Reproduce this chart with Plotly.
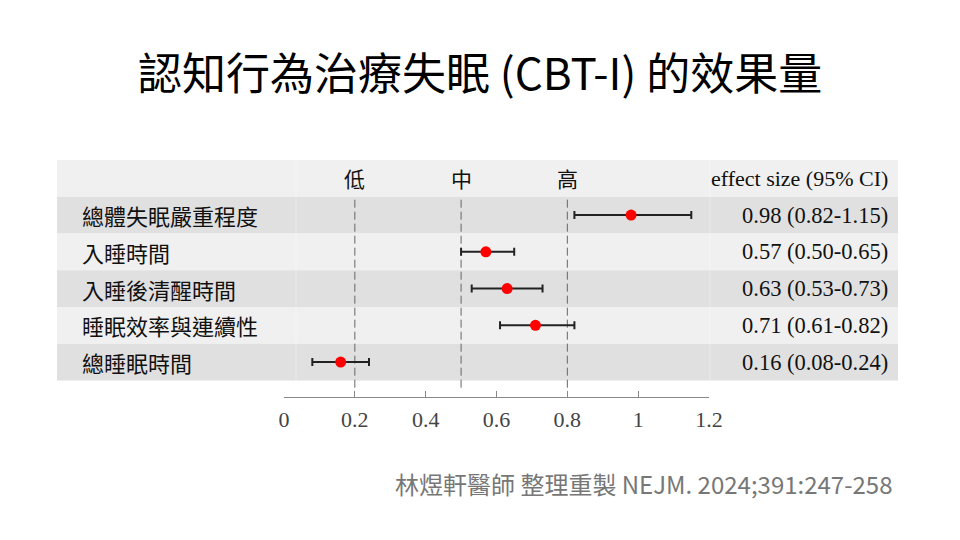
import plotly.graph_objects as go

# data
outcomes = ["總體失眠嚴重程度", "入睡時間", "入睡後清醒時間", "睡眠效率與連續性", "總睡眠時間"]
effect = [0.98, 0.57, 0.63, 0.71, 0.16]
ci_low = [0.82, 0.50, 0.53, 0.61, 0.08]
ci_high = [1.15, 0.65, 0.73, 0.82, 0.24]
ref_levels = [0.2, 0.5, 0.8]
ref_names = ["低", "中", "高"]
x_ticks = [0, 0.2, 0.4, 0.6, 0.8, 1.0, 1.2]
x_ticktext = ["0", "0.2", "0.4", "0.6", "0.8", "1", "1.2"]

W, H = 960, 540
CJK = "Noto Sans CJK TC, Noto Sans CJK SC, sans-serif"
SERIF = "Liberation Serif, Times New Roman, serif"

rows = list(range(1, len(outcomes) + 1))

fig = go.Figure()

fig.add_trace(go.Scatter(
    x=effect, y=rows, mode="markers",
    marker=dict(color="#ff0000", size=11),
    error_x=dict(type="data", symmetric=False,
                 array=[h - e for h, e in zip(ci_high, effect)],
                 arrayminus=[e - l for e, l in zip(effect, ci_low)],
                 color="#222222", thickness=2, width=4),
    showlegend=False, hoverinfo="skip",
))

shapes = []
# row stripes (header row 0 + data rows)
for i in range(len(outcomes) + 1):
    shapes.append(dict(type="rect", xref="paper", yref="y",
                       x0=57 / W, x1=898 / W, y0=i - 0.5, y1=i + 0.5,
                       fillcolor="#f0f0f0" if i % 2 == 0 else "#e0e0e0",
                       line=dict(width=0), layer="below"))
# faint column seams in the table
for px in (296, 710):
    shapes.append(dict(type="line", xref="paper", yref="y", x0=px / W, x1=px / W,
                       y0=-0.5, y1=5.5, line=dict(color="rgba(255,255,255,0.35)", width=1),
                       layer="below"))
# dashed reference lines
for v in ref_levels:
    shapes.append(dict(type="line", xref="x", yref="y", x0=v, x1=v,
                       y0=0.58, y1=5.78,
                       line=dict(color="#666666", width=1, dash="8px,4px"),
                       layer="below"))

annotations = []
for v, n in zip(ref_levels, ref_names):
    annotations.append(dict(x=v, y=0, xref="x", yref="y", text=n, showarrow=False,
                            font=dict(family=CJK, size=21, color="#111111")))
annotations.append(dict(x=890 / W, y=0, xref="paper", yref="y", xanchor="right",
                        text="effect size (95% CI)", showarrow=False,
                        font=dict(family=SERIF, size=22, color="#111111")))
for r, name, e, lo, hi in zip(rows, outcomes, effect, ci_low, ci_high):
    annotations.append(dict(x=80 / W, y=r, xref="paper", yref="y", xanchor="left",
                            text=name, showarrow=False,
                            font=dict(family=CJK, size=22, color="#111111")))
    annotations.append(dict(x=890 / W, y=r, xref="paper", yref="y", xanchor="right",
                            text=f"{e:.2f} ({lo:.2f}-{hi:.2f})", showarrow=False,
                            font=dict(family=SERIF, size=22.5, color="#111111")))
annotations.append(dict(x=0.5, y=1 - 71 / H, xref="paper", yref="paper",
                        xanchor="center", yanchor="middle",
                        text="認知行為治療失眠 (CBT-I) 的效果量", showarrow=False,
                        font=dict(family=CJK, size=44, color="#000000")))
annotations.append(dict(x=894 / W, y=1 - 483 / H, xref="paper", yref="paper",
                        xanchor="right", yanchor="middle",
                        text="林煜軒醫師 整理重製 NEJM. 2024;391:247-258", showarrow=False,
                        font=dict(family=CJK, size=24, color="#777777")))

fig.update_layout(
    width=W, height=H,
    margin=dict(l=0, r=0, t=0, b=0, autoexpand=False),
    paper_bgcolor="white", plot_bgcolor="rgba(0,0,0,0)",
    shapes=shapes, annotations=annotations,
    xaxis=dict(domain=[284 / W, 709 / W], range=[0, 1.2],
               tickvals=x_ticks, ticktext=x_ticktext,
               showline=True, linecolor="#888888", linewidth=1,
               ticks="inside", ticklen=6, tickcolor="#888888",
               ticklabelstandoff=3,
               showgrid=False, zeroline=False, automargin=False,
               tickfont=dict(family=SERIF, size=22, color="#444444")),
    yaxis=dict(domain=[1 - 397 / H, 1 - 160 / H], range=[5.95, -0.5],
               showticklabels=False, showgrid=False, zeroline=False,
               ticks="", automargin=False),
)

fig.write_html("out.html", config={"displayModeBar": False},
               post_script="document.body.style.margin='0';")
